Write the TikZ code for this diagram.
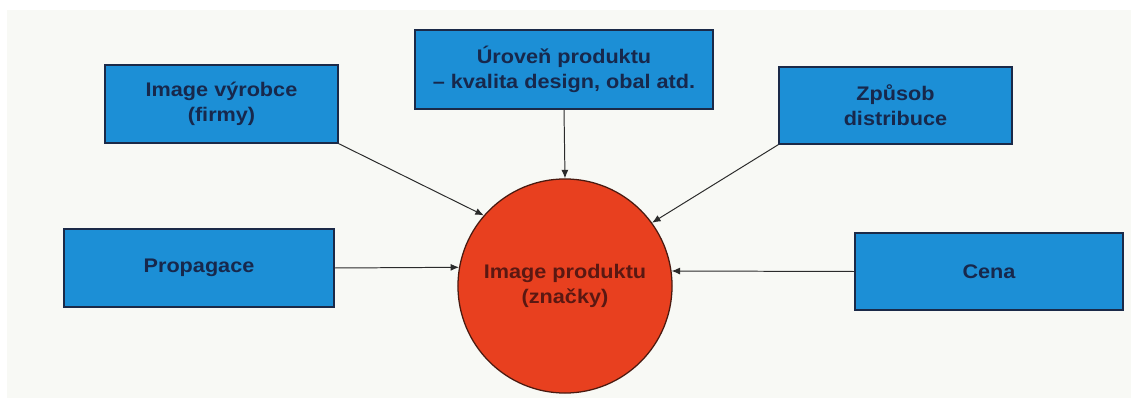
\documentclass[tikz,border=0pt]{standalone}
\usepackage{fontspec}
\setmainfont{Liberation Sans}[FakeStretch=1.1]
\usetikzlibrary{arrows.meta}
\definecolor{paper}{HTML}{F8F9F5}
\definecolor{boxBlue}{HTML}{1C8FD6}
\definecolor{boxEdge}{HTML}{1B2A48}
\definecolor{boxText}{HTML}{17284C}
\definecolor{coreRed}{HTML}{E8401F}
\definecolor{coreEdge}{HTML}{4A1A10}
\definecolor{coreText}{HTML}{5A1812}
\definecolor{linkGray}{HTML}{2B2B2B}

\begin{document}
\begin{tikzpicture}[x=0.025cm, y=-0.025cm, >={Latex[length=6pt,width=5pt]},
    factor/.style={draw=boxEdge, line width=0.9pt, fill=boxBlue, text=boxText,
        font=\fontsize{14}{18}\selectfont\bfseries, align=center, inner sep=0pt},
    core/.style={circle, draw=coreEdge, line width=0.9pt, fill=coreRed, text=coreText,
        font=\fontsize{14}{18}\selectfont\bfseries, align=center, minimum size=5.35cm},
    link/.style={->, draw=linkGray, line width=0.7pt}]
    \useasboundingbox (0,0) rectangle (1131,398);
    \fill[paper] (7,10) rectangle (1131,398);

    % ---------- factors ----------
    \node[factor, minimum width=5.825cm, minimum height=1.95cm] (maker) at (221.5,104) {Image výrobce\\(firmy)};
    \node[factor, minimum width=7.45cm, minimum height=1.975cm] (level) at (564,69.5) {Úroveň produktu\\– kvalita design, obal atd.};
    \node[factor, minimum width=5.825cm, minimum height=1.925cm] (distr) at (895.5,105.5) {Způsob\\distribuce};
    \node[factor, minimum width=6.75cm, minimum height=1.95cm] (promo) at (199,268) {Propagace};
    \node[factor, minimum width=6.7cm, minimum height=1.925cm] (price) at (989,271.5) {Cena};

    % ---------- product image ----------
    \node[core] (img) at (565,286) {Image produktu\\(značky)};

    \draw[link] (maker.south east) -- (img.139);
    \draw[link] (level.south) -- (img.north);
    \draw[link] (distr.south west) -- (img.36);
    \draw[link] (promo.east) -- (img.170);
    \draw[link] (price.west) -- (img.8);
\end{tikzpicture}
\end{document}
